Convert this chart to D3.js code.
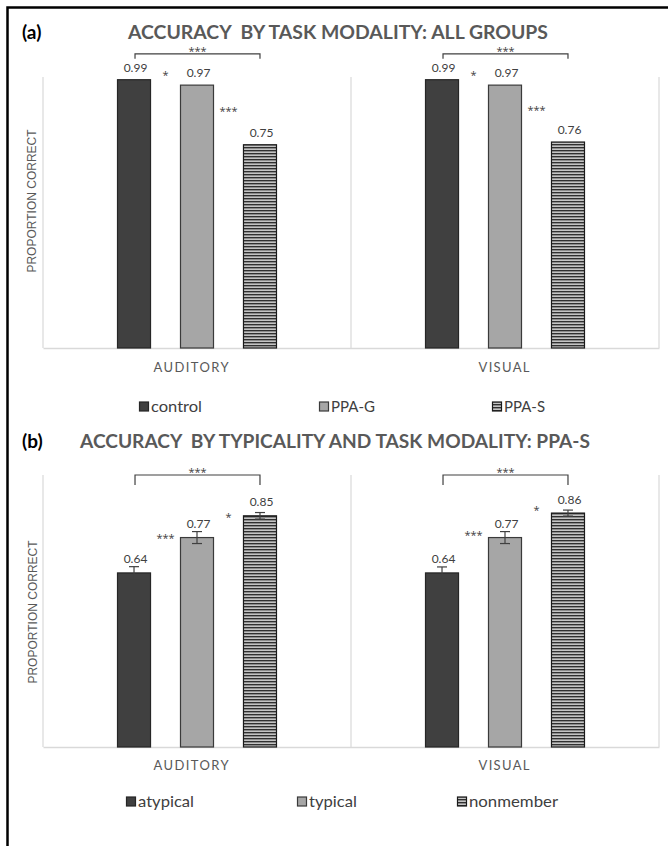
<!DOCTYPE html>
<html>
<head>
<meta charset="utf-8">
<script src="https://cdn.jsdelivr.net/npm/d3@7"></script>
<style>
  html, body { margin: 0; padding: 0; background: #fff; }
  svg { display: block; }
</style>
</head>
<body>
<svg id="chart" width="668" height="846"></svg>
<script>
// ---------------- DATA ----------------
const categories = ["AUDITORY", "VISUAL"];

const groupsA = ["control", "PPA-G", "PPA-S"];
const accA_auditory = [0.99, 0.97, 0.75];
const accA_visual   = [0.99, 0.97, 0.76];

const groupsB = ["atypical", "typical", "nonmember"];
const accB_auditory = [0.64, 0.77, 0.85];
const accB_visual   = [0.64, 0.77, 0.86];
const errB_auditory = [0.023, 0.022, 0.012];
const errB_visual   = [0.022, 0.022, 0.011];

// significance between adjacent bars (level = proportion where the mark sits)
const sigA_auditory = [{from: 0, to: 1, label: "*", level: 1.015}, {from: 1, to: 2, label: "***", level: 0.882}];
const sigA_visual   = [{from: 0, to: 1, label: "*", level: 1.015}, {from: 1, to: 2, label: "***", level: 0.886}];
const sigB_auditory = [{from: 0, to: 1, label: "***", level: 0.779}, {from: 1, to: 2, label: "*", level: 0.853}];
const sigB_visual   = [{from: 0, to: 1, label: "***", level: 0.79}, {from: 1, to: 2, label: "*", level: 0.879}];

// brackets spanning first and last bar
const bracketA = {from: 0, to: 2, label: "***", level: 1.085, drop: 0.018};
const bracketB = {from: 0, to: 2, label: "***", level: 1.0, drop: 0.037};

const titleA = "ACCURACY  BY TASK MODALITY: ALL GROUPS";
const titleB = "ACCURACY  BY TYPICALITY AND TASK MODALITY: PPA-S";
const yAxisTitle = "PROPORTION CORRECT";

// ---------------- DRAW ----------------
const svg = d3.select("#chart");
const defs = svg.append("defs");
const pat = defs.append("pattern").attr("id", "hstripe")
  .attr("patternUnits", "userSpaceOnUse").attr("width", 4).attr("height", 3);
pat.append("rect").attr("width", 4).attr("height", 3).attr("fill", "#8c8c8c");
pat.append("rect").attr("y", 0).attr("width", 4).attr("height", 1).attr("fill", "#303030");
pat.append("rect").attr("y", 2).attr("width", 4).attr("height", 1).attr("fill", "#c4c4c4");

const fills = ["#404040", "#a6a6a6", "url(#hstripe)"];
const strokes = ["#262626", "#3a3a3a", "#1a1a1a"];
const textGray = "#595959";
const labelGray = "#404040";
const sans = "Lato, 'Open Sans', sans-serif";
const starFont = "'Open Sans', sans-serif";

// frame
svg.append("path").attr("d", "M7.5,846 V7.5 H668")
  .attr("fill", "none").attr("stroke", "#000").attr("stroke-width", 2.5);

const left = 43, right = 659;
const x0 = d3.scaleBand().domain(categories).range([left, right]).padding(0);

function drawPanel(opt) {
  const g = svg.append("g");
  const y = d3.scaleLinear().domain([0, 1]).range([opt.bottom, opt.top]);
  const x1 = d3.scaleBand().domain(opt.groups).range([0, x0.bandwidth()])
    .paddingInner(0.46).paddingOuter(1.175);
  const bw = x1.bandwidth();

  // vertical gridlines (category boundaries)
  const bounds = [left, ...categories.slice(1).map(c => x0(c)), right];
  g.selectAll("line.vg").data(bounds).join("line")
    .attr("x1", d => d).attr("x2", d => d)
    .attr("y1", opt.top).attr("y2", opt.bottom)
    .attr("stroke", "#d9d9d9").attr("stroke-width", 1.2);

  // x axis
  const xAxis = d3.axisBottom(x0).tickSize(0).tickPadding(0);
  const ax = g.append("g").attr("transform", `translate(0,${opt.bottom})`).call(xAxis);
  ax.select(".domain").attr("stroke", "#d9d9d9").attr("stroke-width", 1.5);
  ax.selectAll(".tick text")
    .attr("y", opt.catY - opt.bottom).attr("dy", "0.35em")
    .attr("font-family", sans).attr("font-size", 13).attr("fill", textGray)
    .attr("text-anchor", "middle")
    .attr("x", d => d === "AUDITORY" ? -6 : -1)
    .attr("textLength", d => d === "AUDITORY" ? 75 : 51)
    .attr("lengthAdjust", "spacing");

  // y-axis title
  g.append("text")
    .attr("transform", `translate(${opt.yTitleX},${opt.yTitleY}) rotate(-90)`)
    .attr("text-anchor", "middle").attr("dy", "0.35em")
    .attr("font-family", "'Liberation Sans', Arial, sans-serif")
    .attr("font-size", 12).attr("fill", textGray)
    .text(yAxisTitle);

  opt.series.forEach((s, ci) => {
    const cat = categories[ci];
    const cg = g.append("g").attr("transform", `translate(${x0(cat)},0)`);
    const data = s.values.map((v, i) => ({v, i, g: opt.groups[i], e: s.errors ? s.errors[i] : null}));

    cg.selectAll("rect.bar").data(data).join("rect")
      .attr("x", d => x1(d.g) + 0.5).attr("width", bw - 1)
      .attr("y", d => y(d.v)).attr("height", d => y(0) - y(d.v))
      .attr("fill", d => fills[d.i]).attr("stroke", d => strokes[d.i]).attr("stroke-width", 1.2);

    if (s.errors) {
      const eg = cg.selectAll("g.err").data(data).join("g");
      eg.append("line")
        .attr("x1", d => x1(d.g) + bw / 2).attr("x2", d => x1(d.g) + bw / 2)
        .attr("y1", d => y(d.v - d.e)).attr("y2", d => y(d.v + d.e));
      eg.append("line")
        .attr("x1", d => x1(d.g) + bw / 2 - 5).attr("x2", d => x1(d.g) + bw / 2 + 5)
        .attr("y1", d => y(d.v + d.e)).attr("y2", d => y(d.v + d.e));
      eg.append("line")
        .attr("x1", d => x1(d.g) + bw / 2 - 5).attr("x2", d => x1(d.g) + bw / 2 + 5)
        .attr("y1", d => y(d.v - d.e)).attr("y2", d => y(d.v - d.e));
      eg.selectAll("line").attr("stroke", "#404040").attr("stroke-width", 1.2);
    }

    // value labels
    cg.selectAll("text.val").data(data).join("text")
      .attr("x", d => x1(d.g) + bw / 2 + 1.5)
      .attr("y", d => y(d.v) - opt.labelGap + 4)
      .attr("text-anchor", "middle")
      .attr("font-family", sans).attr("font-size", 12).attr("fill", labelGray)
      .text(d => d3.format(".2f")(d.v));

    // adjacent significance marks
    cg.selectAll("text.sig").data(s.sig).join("text")
      .attr("x", d => (x1(opt.groups[d.from]) + x1(opt.groups[d.to])) / 2 + bw / 2)
      .attr("y", d => y(d.level) + 6.5)
      .attr("text-anchor", "middle")
      .attr("font-family", starFont).attr("font-size", 11).attr("fill", labelGray)
      .text(d => d.label);

    // bracket
    const b = opt.bracket;
    const bx1 = x1(opt.groups[b.from]) + bw / 2 + 1;
    const bx2 = x1(opt.groups[b.to]) + bw / 2;
    const by = y(b.level), byd = y(b.level - b.drop);
    cg.append("path")
      .attr("d", `M${bx1},${byd} V${by} H${bx2} V${byd}`)
      .attr("fill", "none").attr("stroke", "#404040").attr("stroke-width", 1.2);
    cg.append("text")
      .attr("x", (bx1 + bx2) / 2).attr("y", by + 1)
      .attr("text-anchor", "middle")
      .attr("font-family", starFont).attr("font-size", 11).attr("fill", labelGray)
      .text(b.label);
  });

  // titles
  g.append("text").attr("x", 22).attr("y", opt.titleBase)
    .attr("font-family", sans).attr("font-weight", 700).attr("font-size", 19).attr("fill", "#000")
    .text(opt.tag);
  g.append("text").attr("x", opt.titleX).attr("y", opt.titleBase)
    .attr("font-family", sans).attr("font-weight", 700).attr("font-size", 18).attr("fill", textGray)
    .style("white-space", "pre")
    .attr("textLength", opt.titleLen).attr("lengthAdjust", "spacingAndGlyphs")
    .text(opt.title);

  // legend
  const lg = g.selectAll("g.leg").data(opt.groups).join("g")
    .attr("transform", (d, i) => `translate(${opt.legendX[i]},${opt.legendY})`);
  lg.append("rect").attr("x", 0.5).attr("y", -5).attr("width", 9).attr("height", 9)
    .attr("fill", (d, i) => fills[i]).attr("stroke", (d, i) => strokes[i]).attr("stroke-width", 1.2);
  lg.append("text").attr("x", 12).attr("y", 0).attr("dy", "0.35em")
    .attr("font-family", sans).attr("font-size", 15).attr("fill", labelGray)
    .attr("textLength", (d, i) => opt.legendLen[i]).attr("lengthAdjust", "spacingAndGlyphs")
    .text(d => d);
}

drawPanel({
  top: 77, bottom: 348, catY: 367, groups: groupsA,
  yTitleX: 32, yTitleY: 201, labelGap: 12,
  series: [
    {values: accA_auditory, sig: sigA_auditory},
    {values: accA_visual, sig: sigA_visual}
  ],
  bracket: bracketA,
  tag: "(a)", title: titleA, titleX: 128, titleBase: 39, titleLen: 420,
  legendX: [139, 319, 492], legendY: 407, legendLen: [51, 44, 41]
});

drawPanel({
  top: 475, bottom: 747, catY: 765, groups: groupsB,
  yTitleX: 33, yTitleY: 612, labelGap: 13.5,
  series: [
    {values: accB_auditory, errors: errB_auditory, sig: sigB_auditory},
    {values: accB_visual, errors: errB_visual, sig: sigB_visual}
  ],
  bracket: bracketB,
  tag: "(b)", title: titleB, titleX: 80, titleBase: 448, titleLen: 510,
  legendX: [126, 297, 457], legendY: 802, legendLen: [56, 48, 89]
});
</script>
</body>
</html>
